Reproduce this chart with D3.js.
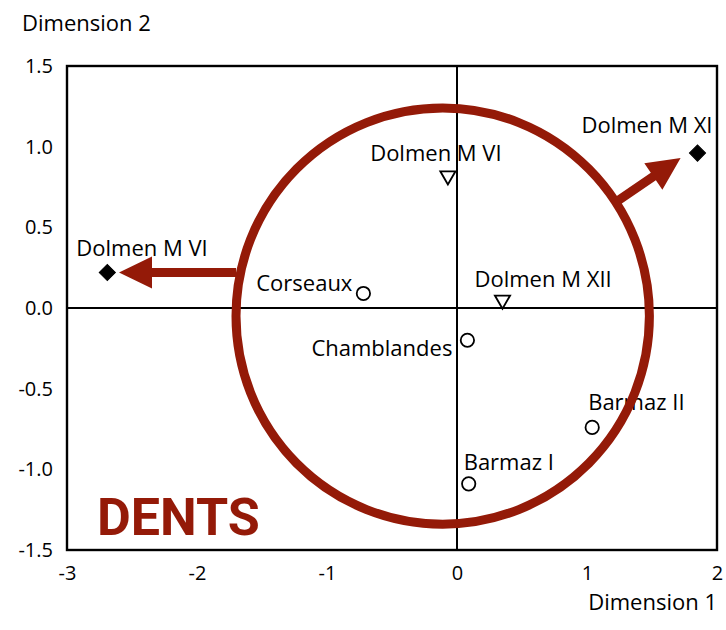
<!DOCTYPE html>
<html>
<head>
<meta charset="utf-8">
<script src="https://cdn.jsdelivr.net/npm/d3@7"></script>
<style>
  body { margin: 0; background: #fff; }
  text { font-family: "Open Sans", sans-serif; fill: #000; }
</style>
</head>
<body>
<div id="frame"></div>
<script>
// data
const sites = ["Dolmen M VI", "Dolmen M XI", "Dolmen M VI", "Dolmen M XII", "Corseaux", "Chamblandes", "Barmaz II", "Barmaz I"];
const dim1 = [-2.69, 1.85, -0.07, 0.35, -0.72, 0.08, 1.04, 0.09];
const dim2 = [0.22, 0.96, 0.82, 0.05, 0.09, -0.20, -0.74, -1.09];
const shapes = ["diamond", "diamond", "triangle", "triangle", "circle", "circle", "circle", "circle"];
const xTicks = [-3, -2, -1, 0, 1, 2];
const yTicks = [-1.5, -1.0, -0.5, 0.0, 0.5, 1.0, 1.5];

// annotation (red circle + arrows), in data units
const ring = { cx: -0.11, cy: -0.05, rx: 1.59, ry: 1.29 };
const arrows = [
    { x1: -1.70, y1: 0.22, x2: -2.60, y2: 0.22 },
    { x1: 1.24, y1: 0.666, x2: 1.72, y2: 0.93 }
];

// label placement relative to each point: [dx, dy, anchor]
const labelPos = [
    [-31, -17, "start"], [15, -20, "end"], [-12, -15, "middle"], [-28, -13, "start"],
    [-11, -2, "end"], [-15, 16, "end"], [-4, -17, "start"], [-5, -14, "start"]
];

const W = 726, H = 630;
const margin = { top: 66, right: 8, bottom: 80, left: 67 };
const red = "#941a08";

let x = d3.scaleLinear().domain([-3, 2]).range([margin.left, W - margin.right - 1]);
let y = d3.scaleLinear().domain([-1.5, 1.5]).range([H - margin.bottom, margin.top]);

let svg = d3.select("#frame").append("svg")
    .attr("width", W)
    .attr("height", H);

// axes (labels only, frame drawn separately)
svg.append("g")
    .attr("transform", "translate(0," + y(-1.5) + ")")
    .call(d3.axisBottom(x).tickValues(xTicks).tickSize(0).tickPadding(16).tickFormat(d => d.toFixed(0)))
    .call(g => g.select(".domain").remove())
    .selectAll("text")
    .style("font-size", "20px")
    .style("font-family", "'Open Sans', sans-serif")
    .attr("fill", "#000");

svg.append("g")
    .attr("transform", "translate(" + x(-3) + ",0)")
    .call(d3.axisLeft(y).tickValues(yTicks).tickSize(0).tickPadding(14).tickFormat(d => d.toFixed(1)))
    .call(g => g.select(".domain").remove())
    .selectAll("text")
    .style("font-size", "20px")
    .style("font-family", "'Open Sans', sans-serif")
    .attr("fill", "#000");

// frame and zero lines
svg.append("rect")
    .attr("x", x(-3))
    .attr("y", y(1.5))
    .attr("width", x(2) - x(-3))
    .attr("height", y(-1.5) - y(1.5))
    .attr("fill", "none")
    .attr("stroke", "#000")
    .attr("stroke-width", 2.4);

svg.append("line")
    .attr("x1", x(-3)).attr("x2", x(2))
    .attr("y1", y(0)).attr("y2", y(0))
    .attr("stroke", "#000").attr("stroke-width", 2);
svg.append("line")
    .attr("x1", x(0)).attr("x2", x(0))
    .attr("y1", y(1.5)).attr("y2", y(-1.5))
    .attr("stroke", "#000").attr("stroke-width", 2);

// axis titles
svg.append("text")
    .attr("x", 22).attr("y", 31)
    .style("font-size", "22px")
    .text("Dimension 2");
svg.append("text")
    .attr("x", x(2)).attr("y", 610)
    .attr("text-anchor", "end")
    .style("font-size", "22px")
    .text("Dimension 1");

// points
const symbolOf = {
    diamond: d3.symbol().type(d3.symbolSquare).size(130),
    triangle: d3.symbol().type(d3.symbolTriangle).size(100),
    circle: d3.symbol().type(d3.symbolCircle).size(140)
};

svg.selectAll("path.pt")
    .data(sites)
    .enter()
    .append("path")
    .attr("class", "pt")
    .attr("d", (d, i) => symbolOf[shapes[i]]())
    .attr("transform", (d, i) => {
        let t = "translate(" + x(dim1[i]) + "," + y(dim2[i]) + ")";
        if (shapes[i] === "diamond") t += " rotate(45)";
        if (shapes[i] === "triangle") t += " rotate(180)";
        return t;
    })
    .attr("fill", (d, i) => shapes[i] === "diamond" ? "#000" : "#fff")
    .attr("stroke", "#000")
    .attr("stroke-width", (d, i) => shapes[i] === "diamond" ? 1 : 1.8);

svg.selectAll("text.lbl")
    .data(sites)
    .enter()
    .append("text")
    .attr("class", "lbl")
    .attr("x", (d, i) => x(dim1[i]) + labelPos[i][0])
    .attr("y", (d, i) => y(dim2[i]) + labelPos[i][1])
    .attr("text-anchor", (d, i) => labelPos[i][2])
    .style("font-size", "22px")
    .text(d => d);

// red annotation
svg.append("ellipse")
    .attr("cx", x(ring.cx))
    .attr("cy", y(ring.cy))
    .attr("rx", x(ring.cx + ring.rx) - x(ring.cx))
    .attr("ry", y(ring.cy - ring.ry) - y(ring.cy))
    .attr("fill", "none")
    .attr("stroke", red)
    .attr("stroke-width", 9);

const headLen = 33, headHalf = 16, shaftHalf = 4.5;
svg.selectAll("path.arrow")
    .data(arrows)
    .enter()
    .append("path")
    .attr("class", "arrow")
    .attr("fill", red)
    .attr("d", a => {
        let px1 = x(a.x1), py1 = y(a.y1), px2 = x(a.x2), py2 = y(a.y2);
        let len = Math.hypot(px2 - px1, py2 - py1);
        let ux = (px2 - px1) / len, uy = (py2 - py1) / len;
        let nx = -uy, ny = ux;
        let bx = px2 - ux * headLen, by = py2 - uy * headLen;
        let pts = [
            [px1 + nx * shaftHalf, py1 + ny * shaftHalf],
            [bx + nx * shaftHalf, by + ny * shaftHalf],
            [bx + nx * headHalf, by + ny * headHalf],
            [px2, py2],
            [bx - nx * headHalf, by - ny * headHalf],
            [bx - nx * shaftHalf, by - ny * shaftHalf],
            [px1 - nx * shaftHalf, py1 - ny * shaftHalf]
        ];
        return "M" + pts.map(p => p.join(",")).join("L") + "Z";
    });

svg.append("text")
    .attr("x", 97).attr("y", 535)
    .style("font-family", "Roboto, 'Liberation Sans', sans-serif")
    .style("font-weight", "bold")
    .style("font-size", "52px")
    .style("fill", red)
    .text("DENTS");
</script>
</body>
</html>
